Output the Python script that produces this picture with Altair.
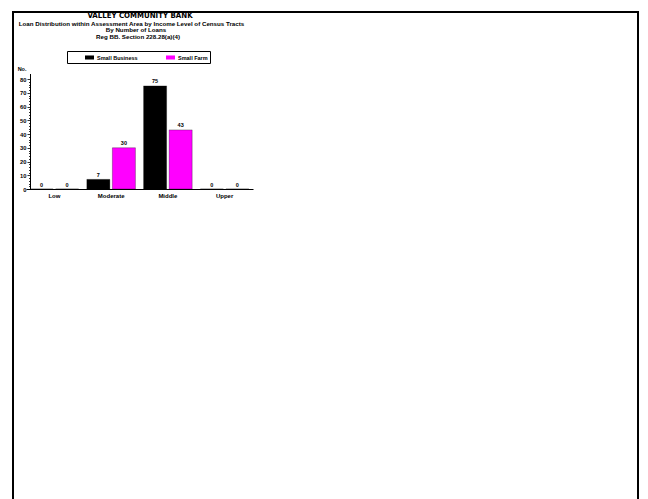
import altair as alt
import pandas as pd

categories = ["Low", "Moderate", "Middle", "Upper"]
series = ["Small Business", "Small Farm"]
small_business = [0, 7, 75, 0]
small_farm = [0, 30, 43, 0]
colors = ["#000000", "#FF00FF"]
title_lines = [
    "VALLEY COMMUNITY BANK",
    "Loan Distribution within Assessment Area by Income Level of Census Tracts",
    "By Number of Loans",
    "Reg  BB. Section 228.28(a)(4)",
]
y_tick_values = list(range(0, 81, 2))

FONT = "Liberation Sans"
TITLE_FONT = "DejaVu Sans Condensed, Liberation Sans"

rows = []
for i, c in enumerate(categories):
    rows.append({"category": c, "series": series[0], "value": small_business[i]})
    rows.append({"category": c, "series": series[1], "value": small_farm[i]})
df = pd.DataFrame(rows)

H = 491

x_enc = alt.X(
    "category:N",
    sort=categories,
    scale=alt.Scale(range=[18, 245], paddingInner=0, paddingOuter=0),
    axis=alt.Axis(
        title=None, ticks=False, domainColor="black", domainWidth=1,
        labelAngle=0, labelFont=FONT, labelFontSize=6, labelFontWeight="bold",
        labelColor="black", labelPadding=3, offset=181 - H,
    ),
)
xoff_enc = alt.XOffset(
    "series:N", sort=series,
    scale=alt.Scale(paddingInner=0.098, paddingOuter=0.16),
)
y_enc = alt.Y(
    "value:Q",
    scale=alt.Scale(domain=[0, 84], range=[181, 65.5], nice=False, zero=True),
    axis=alt.Axis(
        title="No.", titleAngle=0, titleAlign="right", titleBaseline="bottom",
        titleX=-4, titleY=63, titleFont=FONT, titleFontSize=5.5,
        titleFontWeight="bold", titleColor="black",
        values=y_tick_values,
        labelExpr="datum.value % 10 === 0 ? datum.label : ''",
        tickSize={"condition": {"test": "datum.value % 10 === 0", "value": 3}, "value": 1.5},
        tickColor="black", tickWidth=0.8,
        domainColor="black", domainWidth=1, grid=False,
        labelFont=FONT, labelFontSize=5.8, labelFontWeight="bold",
        labelColor="black", labelPadding=1, offset=-22,
    ),
)

base = alt.Chart(df).encode(x=x_enc, xOffset=xoff_enc, y=y_enc)

bars = base.mark_bar(stroke="black", strokeWidth=0.3).encode(
    color=alt.Color(
        "series:N", sort=series,
        scale=alt.Scale(domain=series, range=colors),
        legend=alt.Legend(
            title=None, orient="none", legendX=59, legendY=43,
            direction="horizontal", strokeColor="black", fillColor="white",
            padding=2, symbolType="M-1,-0.45L1,-0.45L1,0.45L-1,0.45Z",
            symbolSize=81, symbolStrokeWidth=0, symbolOffset=16,
            labelFont=FONT, labelFontSize=5.5, labelFontWeight="bold",
            labelColor="black", labelOffset=3, columnPadding=12,
        ),
    )
)

labels = base.mark_text(
    font=FONT, fontSize=5.5, fontWeight="bold", color="black",
    baseline="alphabetic", dy=-2.5,
).encode(text="value:Q")

one = pd.DataFrame({"a": [0]})
title_specs = [
    (title_lines[0], 132, 7.8, 7.8, TITLE_FONT),
    (title_lines[1], 123.5, 15.5, 6.2, FONT),
    (title_lines[2], 128, 22.2, 6.2, FONT),
    (title_lines[3], 130, 28.5, 6.2, FONT),
]
title_layers = [
    alt.Chart(one).mark_text(
        text=t, font=f, fontSize=fs, fontWeight="bold", color="black",
        align="center", baseline="middle",
    ).encode(x=alt.value(xx), y=alt.value(yy))
    for t, xx, yy, fs, f in title_specs
]

frame = alt.Chart(one).mark_rect(
    filled=False, stroke="black", strokeWidth=2
).encode(x=alt.value(5), x2=alt.value(630), y=alt.value(4), y2=alt.value(1000))

chart = alt.layer(frame, bars, labels, *title_layers).properties(
    width=632, height=H,
    autosize=alt.AutoSizeParams(type="none"),
    padding=0,
    background="white",
).configure_view(strokeWidth=0)

chart.save("out.html", embed_options={"renderer": "svg", "actions": False})
